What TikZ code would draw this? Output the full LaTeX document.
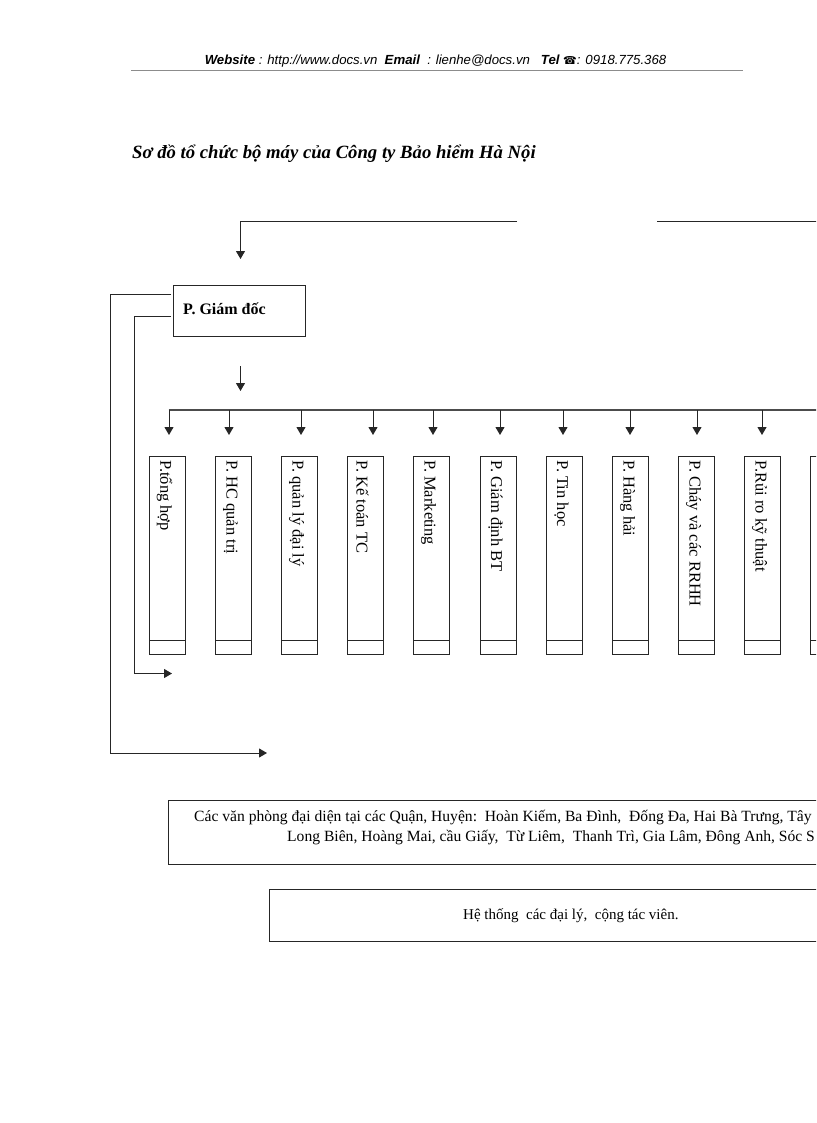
\documentclass[tikz,border=0pt]{standalone}
\usepackage{fontspec}
\setmainfont{Liberation Serif}
\newfontfamily\hdrfont{Liberation Sans}
\newfontfamily\symfont{DejaVu Sans}
\usetikzlibrary{arrows.meta}
\tikzset{
  line/.style={draw=black!85,line width=1pt},
  conn/.style={line,-{Triangle[length=8pt,width=9pt]}},
  dept/.style={draw=black!85,line width=1pt,minimum width=36pt,minimum height=198pt,inner sep=0pt},
  depttext/.style={rotate=-90,anchor=west,inner sep=0pt,font=\fontsize{16.5pt}{19pt}\selectfont},
  wide/.style={draw=black!85,line width=1pt,inner sep=0pt,anchor=north west},
  body/.style={inner sep=0pt,font=\fontsize{15.6pt}{18pt}\selectfont}
}
\begin{document}
\begin{tikzpicture}[x=1pt,y=-1pt]
\useasboundingbox (0,0) rectangle (816,1123);
\clip (0,0) rectangle (816,1123);
\fill[white] (0,0) rectangle (816,1123);
% header
\node[anchor=base,inner sep=0pt,font=\fontsize{13.2pt}{15pt}\selectfont\hdrfont\itshape] (hdr) at (435.5,65)
  {\textbf{Website} : http://www.docs.vn\ \ \textbf{Email}\ \ : lienhe@docs.vn\ \ \ \textbf{Tel}\ {\symfont\fontsize{11pt}{13pt}\selectfont ☎}: 0918.775.368};
\coordinate (r1) at (131,71);
\coordinate (r2) at (743,71);
\draw[draw=black!45,line width=1pt] (r1) -- (r2);
% title
\node[anchor=base west,inner sep=0pt,font=\fontsize{18.7pt}{22pt}\selectfont\bfseries\itshape] (title) at (132,159)
  {Sơ đồ tổ chức bộ máy của Công ty Bảo hiểm Hà Nội};
% top connectors
\coordinate (t1) at (517,221.5);
\coordinate (t2) at (240.5,221.5);
\coordinate (t3) at (240.5,259);
\coordinate (t4) at (657,221.5);
\coordinate (t5) at (830,221.5);
\draw[conn] (t1) -- (t2) -- (t3);
\draw[line] (t4) -- (t5);
% director
\node[draw=black!85,line width=1pt,minimum width=132pt,minimum height=51pt,inner sep=0pt] (gd) at (239,310.5) {};
\node[anchor=base west,inner sep=0pt,font=\fontsize{16pt}{18pt}\selectfont\bfseries] (gdt) at (183,314) {P. Giám đốc};
\coordinate (a1) at (171,294);
\coordinate (a2) at (110.5,294);
\coordinate (a3) at (110.5,753);
\coordinate (a4) at (267,753);
\draw[conn] (a1) -- (a2) -- (a3) -- (a4);
\coordinate (b1) at (171,316);
\coordinate (b2) at (134.5,316);
\coordinate (b3) at (134.5,673.5);
\coordinate (b4) at (172,673.5);
\draw[conn] (b1) -- (b2) -- (b3) -- (b4);
\coordinate (c1) at (240.5,366);
\coordinate (c2) at (240.5,391);
\draw[conn] (c1) -- (c2);
% bus
\coordinate (bus1) at (168.5,410);
\coordinate (bus2) at (830,410);
\draw[draw=black!70,line width=1.5pt] (bus1) -- (bus2);
% departments
\foreach \n/\bx/\ax/\lab in {
  1/167.5/169/{P.tổng hợp},
  2/233.5/229/{P. HC quản trị},
  3/299.5/301/{P. quản lý đại lý},
  4/365.5/373/{P. Kế toán TC},
  5/431.5/433/{P. Marketing},
  6/498.5/500/{P. Giám định BT},
  7/564.5/563/{P. Tin học},
  8/630.5/630/{P. Hàng hải},
  9/696.5/697/{P. Cháy và các RRHH},
  10/762.5/762/{P.Rủi ro kỹ thuật}}{
  \node[dept] (d\n) at (\bx,555) {};
  \node[depttext] (l\n) at (\bx-3,460.5) {\lab};
  \coordinate (u\n) at (\ax,410);
  \coordinate (v\n) at (\ax,435);
  \draw[conn] (u\n) -- (v\n);
  \draw[line] (d\n.west |- 0,640) -- (d\n.east |- 0,640);
}
\node[dept] (d11) at (828.5,555) {};
\draw[line] (d11.west |- 0,640) -- (d11.east |- 0,640);
% bottom boxes
\node[wide,minimum width=680pt,minimum height=64pt] (vp) at (168,800) {};
\node[body,anchor=base west] (vp1) at (194,821) {Các văn phòng đại diện tại các Quận, Huyện:\ \ Hoàn Kiếm, Ba Đình,\ \ Đống Đa, Hai Bà Trưng, Tây};
\node[body,anchor=base west] (vp2) at (287,841) {Long Biên, Hoàng Mai, cầu Giấy,\ \ Từ Liêm,\ \ Thanh Trì, Gia Lâm, Đông Anh, Sóc S};
\node[wide,minimum width=580pt,minimum height=52pt] (ht) at (269,889) {};
\node[body,anchor=base west,font=\fontsize{15pt}{18pt}\selectfont] (ht1) at (463,919) {Hệ thống\ \ các đại lý,\ \ cộng tác viên.};
\end{tikzpicture}
\end{document}
